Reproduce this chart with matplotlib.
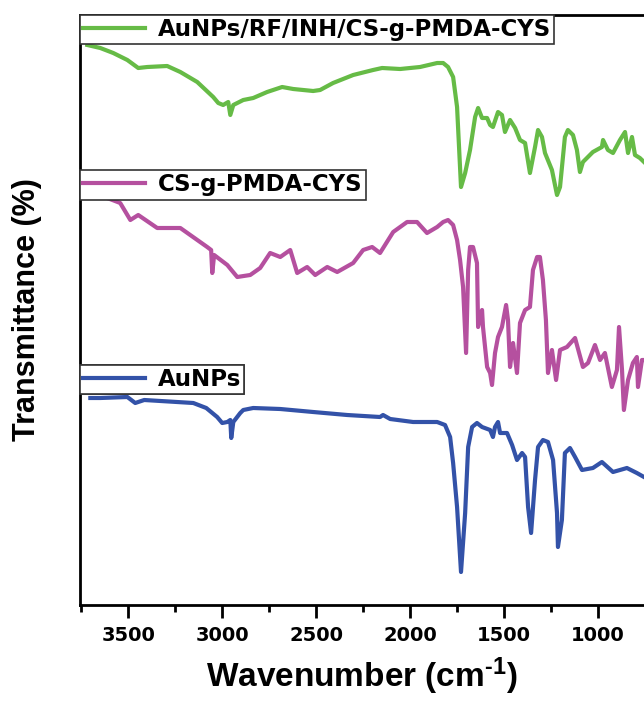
import numpy as np
import matplotlib.pyplot as plt
from matplotlib.ticker import MultipleLocator

plt.rcParams['font.family'] = ['Liberation Sans', 'DejaVu Sans']
plt.rcParams['font.weight'] = 'bold'
plt.rcParams['mathtext.fontset'] = 'custom'
plt.rcParams['mathtext.rm'] = 'Liberation Sans:bold'
plt.rcParams['mathtext.bf'] = 'Liberation Sans:bold'
plt.rcParams['mathtext.default'] = 'bf'

# spectra (wavenumber, offset transmittance in arbitrary units)
wn_green = [3718, 3649, 3580, 3505, 3447, 3399, 3293, 3223, 3133, 3048, 3021, 2995, 2968, 2957,
            2941, 2888, 2835, 2761, 2681, 2622, 2516, 2479, 2410, 2303, 2197, 2149, 2053, 1947,
            1856, 1824, 1798, 1771, 1750, 1729, 1707, 1681, 1654,
            1638, 1617, 1590, 1574, 1559, 1532, 1511, 1495, 1468, 1441, 1415, 1388, 1362, 1335,
            1319, 1298, 1282, 1245, 1218, 1202, 1176, 1160, 1133, 1112, 1096, 1080, 1027, 979,
            973, 947, 920, 883, 856, 840, 819, 803, 777, 755]
t_green = [560, 557, 552, 545, 537, 538, 539, 533, 523, 508, 502, 500, 503, 490,
           500, 505, 507, 513, 518, 516, 514, 515, 522, 530, 535, 537, 536, 538,
           542, 542, 538, 528, 498, 418, 432, 455, 488,
           497, 487, 487, 480, 478, 493, 490, 473, 485, 477, 465, 462, 432, 458,
           475, 468, 452, 435, 410, 418, 468, 475, 470, 455, 433, 443, 453, 458,
           465, 455, 452, 465, 473, 452, 468, 450, 447, 443]

wn_pink = [3612, 3543, 3489, 3447, 3346, 3223, 3080, 3059, 3053, 3043, 2973, 2920, 2851, 2798,
           2745, 2691, 2638, 2601, 2548, 2505, 2441, 2388, 2303, 2250, 2202, 2160, 2090, 2016,
           1963, 1910, 1856, 1824, 1798, 1771, 1750, 1734, 1718, 1702, 1691, 1681, 1665, 1644,
           1638, 1617, 1612, 1590, 1574, 1564, 1548, 1532, 1511, 1489, 1479, 1468, 1452, 1431,
           1415, 1388, 1362, 1346, 1324, 1309, 1293, 1277, 1266, 1245, 1223, 1202, 1165, 1122,
           1080, 1053, 1016, 989, 963, 926, 899, 888, 872, 862, 840, 814, 793, 787, 766, 755]
t_pink = [407, 402, 385, 390, 377, 377, 358, 355, 332, 350, 340, 328, 330, 337,
          352, 348, 355, 332, 338, 330, 338, 333, 342, 355, 358, 352, 373, 383,
          383, 372, 378, 383, 385, 380, 365, 345, 318, 252, 335, 358, 358, 342,
          278, 295, 278, 238, 232, 220, 252, 268, 278, 300, 285, 238, 262, 232,
          282, 295, 298, 335, 348, 348, 325, 285, 232, 255, 225, 255, 258, 267,
          238, 242, 260, 245, 252, 218, 235, 278, 235, 195, 225, 242, 248, 218, 245, 245]

wn_blue = [3702, 3649, 3505, 3463, 3415, 3154, 3085, 3027, 3000, 2973, 2957, 2952,
           2941, 2904, 2888, 2835, 2691, 2516, 2335, 2160, 2144, 2106, 1984, 1856, 1814,
           1787, 1771, 1750, 1729, 1707, 1691, 1670, 1644, 1617, 1574, 1559, 1548, 1532, 1521,
           1484, 1457, 1431, 1404, 1388, 1372, 1356, 1335, 1319, 1293, 1266, 1239, 1218, 1213,
           1192, 1176, 1149, 1122, 1085, 1027, 979, 920, 846, 793, 755]
t_blue = [207, 207, 208, 202, 205, 202, 197, 188, 182, 183, 185, 167,
          183, 192, 195, 197, 196, 193, 190, 188, 190, 186, 183, 183, 180,
          168, 142, 98, 33, 92, 158, 178, 182, 178, 175, 168, 178, 183, 172,
          172, 160, 145, 152, 148, 98, 72, 125, 158, 165, 163, 145, 92, 58,
          85, 152, 157, 148, 135, 137, 143, 133, 137, 132, 128]

labels = ['AuNPs/RF/INH/CS-g-PMDA-CYS', 'CS-g-PMDA-CYS', 'AuNPs']
colors = ['#66bb46', '#b5509f', '#3352a8']

fig = plt.figure(figsize=(6.44, 7.03), dpi=100)
ax = fig.add_axes([80 / 644, 98 / 703, 564 / 644, 590 / 703])

l1, = ax.plot(wn_green, t_green, color=colors[0], lw=3)
l2, = ax.plot(wn_pink, t_pink, color=colors[1], lw=3)
l3, = ax.plot(wn_blue, t_blue, color=colors[2], lw=3)

ax.set_xlim(3757, 755)
ax.set_ylim(0, 590)
ax.set_yticks([])
ax.xaxis.set_major_locator(MultipleLocator(500))
ax.xaxis.set_minor_locator(MultipleLocator(250))
ax.tick_params(axis='x', which='major', direction='out', length=9, width=2, pad=6)
ax.tick_params(axis='x', which='minor', direction='out', length=5, width=2)
for t in ax.get_xticklabels():
    t.set_fontfamily('DejaVu Sans')
    t.set_fontsize(14)
    t.set_fontweight('bold')
for s in ['left', 'bottom', 'top']:
    ax.spines[s].set_linewidth(2)
ax.spines['right'].set_visible(False)

# one boxed legend per curve
for line, lab, ytop in zip([l1, l2, l3], labels, [1.0, 0.737, 0.407]):
    leg = ax.legend([line], [lab], loc='upper left', bbox_to_anchor=(0, ytop),
                    borderaxespad=0, fancybox=False, framealpha=1, edgecolor='#333333',
                    prop={'family': 'DejaVu Sans', 'size': 16.5, 'weight': 'bold'},
                    handlelength=2.7, handletextpad=0.55, borderpad=0.14)
    leg.get_frame().set_linewidth(1.2)
    ax.add_artist(leg)

ax.set_xlabel(r'Wavenumber (cm$^{\text{-1}}$)', fontsize=24, fontweight='bold', labelpad=8)
fig.text(27 / 644, 0.56, 'Transmittance (%)', rotation=90, fontsize=22,
         fontweight='bold', ha='center', va='center')

fig.savefig('out.png', dpi=100)
